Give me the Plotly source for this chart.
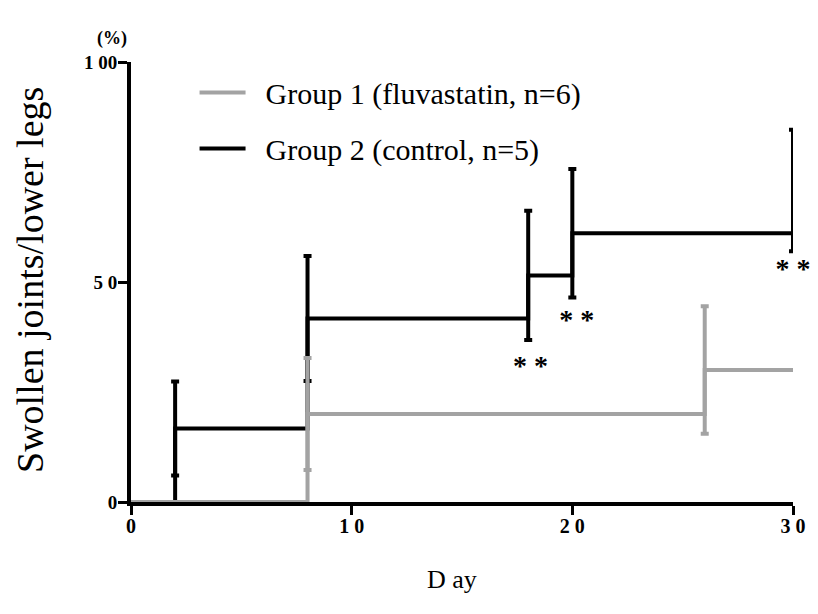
import plotly.graph_objects as go

# ---- data ----
ctrl_days = [0, 2, 8, 18, 20, 30]
ctrl_vals = [0, 16.7, 41.7, 51.5, 61.1, 70.8]
ctrl_err_days = [2, 8, 18, 20, 30]
ctrl_err_vals = [16.7, 41.7, 51.5, 61.1, 70.8]
ctrl_sd = [10.7, 14.2, 14.7, 14.6, 13.8]

fluva_days = [0, 8, 26, 30]
fluva_vals = [0, 20, 30, 30]
fluva_err_days = [8, 26]
fluva_err_vals = [20, 30]
fluva_sd = [12.7, 14.5]

sig_days = [18.1, 20.2, 30.0]
sig_y = [30.5, 40.8, 52.5]

x_ticks = [0, 10, 20, 30]
x_ticktext = ["0", "1 0", "2 0", "3 0"]
y_ticks = [0, 50, 100]
y_ticktext = ["0", "5 0", "1 00"]

BLACK = "#000000"
GRAY = "#a3a3a3"
FONT = "Liberation Serif"
NB = "\u00a0\u00a0"

fig = go.Figure()

# control (black) first so gray draws over it
fig.add_trace(go.Scatter(
    x=ctrl_days, y=ctrl_vals, mode="lines", line_shape="hv",
    line=dict(color=BLACK, width=4), name=NB + "Group 2 (control, n=5)",
    legendrank=2, legendgroup="g2"))
fig.add_trace(go.Scatter(
    x=ctrl_err_days, y=ctrl_err_vals, mode="markers", marker=dict(size=0.1, color=BLACK),
    error_y=dict(type="data", array=ctrl_sd, color=BLACK, thickness=4, width=4),
    showlegend=False, cliponaxis=False, hoverinfo="skip"))

fig.add_trace(go.Scatter(
    x=fluva_days, y=fluva_vals, mode="lines", line_shape="hv",
    line=dict(color=GRAY, width=4), name=NB + "Group 1 (fluvastatin, n=6)",
    legendrank=1, legendgroup="g1"))
fig.add_trace(go.Scatter(
    x=fluva_err_days, y=fluva_err_vals, mode="markers", marker=dict(size=0.1, color=GRAY),
    error_y=dict(type="data", array=fluva_sd, color=GRAY, thickness=4, width=4),
    showlegend=False, cliponaxis=False, hoverinfo="skip"))

# significance markers
fig.add_trace(go.Scatter(
    x=sig_days, y=sig_y, mode="text", text=["* *"] * len(sig_days),
    textfont=dict(family=FONT, size=28, color=BLACK, weight="bold"),
    showlegend=False, cliponaxis=False, hoverinfo="skip"))

axis_common = dict(
    showline=True, linecolor=BLACK, linewidth=4, mirror=False,
    ticks="outside", ticklen=9, tickwidth=3, tickcolor=BLACK,
    showgrid=False, zeroline=False, layer="below traces",
    tickfont=dict(family=FONT, size=20, color=BLACK, weight="bold"),
)

fig.update_layout(
    width=818, height=614,
    margin=dict(l=131, r=25, t=62, b=112),
    plot_bgcolor="white", paper_bgcolor="white",
    font=dict(family=FONT, color=BLACK),
    xaxis=dict(range=[0, 30], tickvals=x_ticks, ticktext=x_ticktext,
               ticklabelstandoff=-6, **axis_common),
    yaxis=dict(range=[0, 100], tickvals=y_ticks, ticktext=y_ticktext,
               ticklabelstandoff=-3, **axis_common),
    legend=dict(
        x=0.096, y=0.99, xanchor="left", yanchor="top",
        font=dict(family=FONT, size=30, color=BLACK),
        itemwidth=46, tracegroupgap=14, traceorder="grouped",
        bgcolor="rgba(0,0,0,0)",
    ),
    showlegend=True,
)
fig.update_yaxes(tickfont=dict(size=19))

fig.add_annotation(text="Swollen joints/lower legs", textangle=-90,
                   xref="paper", yref="paper", x=(30 - 131) / 662, y=(502 - 280) / 440,
                   xanchor="center", yanchor="middle", showarrow=False,
                   font=dict(family=FONT, size=38, color=BLACK))
fig.add_annotation(text="D ay", xref="paper", yref="paper",
                   x=(452 - 131) / 662, y=-(579 - 502) / 440,
                   xanchor="center", yanchor="middle", showarrow=False,
                   font=dict(family=FONT, size=26, color=BLACK))
fig.add_annotation(text="<b>(%)</b>", xref="paper", yref="paper",
                   x=(112 - 131) / 662, y=1 + (62 - 38) / 440,
                   xanchor="center", yanchor="middle", showarrow=False,
                   font=dict(family=FONT, size=18, color=BLACK))

fig.write_html("out.html", config={"displayModeBar": False},
               post_script="document.body.style.margin='0';document.body.style.overflow='hidden';")
